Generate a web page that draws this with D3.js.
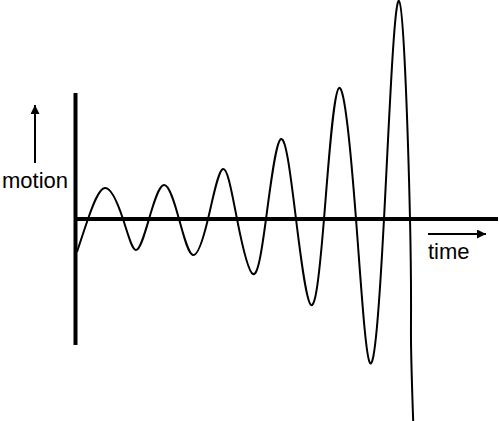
<!DOCTYPE html>
<html><head><meta charset="utf-8">
<script src="https://cdn.jsdelivr.net/npm/d3@7"></script>
<style>html,body{margin:0;padding:0;background:#fff;}svg{display:block;}</style>
</head><body>
<script>
// Wave samples: time (from the vertical axis) and motion (above the time axis)
const time   = [1, 12, 29, 47, 60, 73, 88, 103, 117, 132, 147, 161, 177, 190, 205, 220, 235, 248, 263, 280, 294, 308, 323, 334, 335, 338];
const motion = [-33, 0, 31, 0, -31, 0, 34, 0, -36, 0, 50, 0, -55, 0, 80, 0, -86, 0, 131, 0, -144, 0, 218, 0, -121, -225];
const axisLabels = ["motion", "time"];

const W = 499, H = 421;
const svg = d3.select("body").append("svg").attr("width", W).attr("height", H);

const x = d3.scaleLinear().domain([0, 422]).range([76, 498]);
const y = d3.scaleLinear().domain([-202, 219]).range([421, 0]);

// vertical axis
svg.append("line").attr("x1", 75.5).attr("x2", 75.5).attr("y1", 93).attr("y2", 345)
  .attr("stroke", "#000").attr("stroke-width", 4);
// horizontal (time) axis
svg.append("line").attr("x1", 74).attr("x2", 498).attr("y1", y(0)).attr("y2", y(0))
  .attr("stroke", "#000").attr("stroke-width", 4);

const pts = time.map((t, i) => [t, motion[i]]);
const line = d3.line().x(d => x(d[0])).y(d => y(d[1])).curve(d3.curveNatural);
svg.append("path").attr("d", line(pts)).attr("fill", "none")
  .attr("stroke", "#000").attr("stroke-width", 2);

// arrows
const defs = svg.append("defs");
defs.append("marker").attr("id", "ah").attr("viewBox", "0 0 10 10").attr("refX", 10).attr("refY", 5)
  .attr("markerWidth", 9).attr("markerHeight", 9).attr("markerUnits", "userSpaceOnUse").attr("orient", "auto")
  .append("path").attr("d", "M0,0 L10,5 L0,10 Z").attr("fill", "#000");

svg.append("line").attr("x1", 35).attr("x2", 35).attr("y1", 163).attr("y2", 105)
  .attr("stroke", "#000").attr("stroke-width", 2).attr("marker-end", "url(#ah)");
svg.append("line").attr("x1", 428).attr("x2", 486).attr("y1", 234).attr("y2", 234)
  .attr("stroke", "#000").attr("stroke-width", 2).attr("marker-end", "url(#ah)");

svg.append("text").attr("x", 2).attr("y", 188).text(axisLabels[0])
  .attr("font-family", "Liberation Sans, Arial, sans-serif").attr("font-size", 22).attr("fill", "#000");
svg.append("text").attr("x", 428).attr("y", 259).text(axisLabels[1])
  .attr("font-family", "Liberation Sans, Arial, sans-serif").attr("font-size", 22).attr("fill", "#000");
</script>
</body></html>
